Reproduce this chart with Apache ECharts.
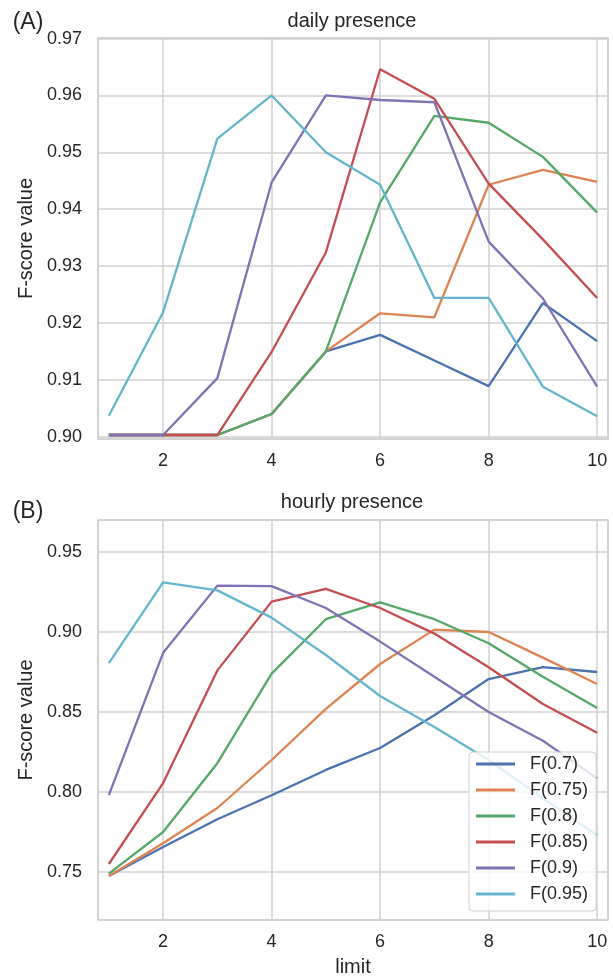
<!DOCTYPE html>
<html>
<head>
<meta charset="utf-8">
<script src="https://cdn.jsdelivr.net/npm/echarts@6/dist/echarts.min.js"></script>
<style>
html,body{margin:0;padding:0;background:#fff;}
#chart{width:613px;height:980px;}
</style>
</head>
<body>
<div id="chart"></div>
<script>
// ---- data ----
const limits = [1, 2, 3, 4, 5, 6, 7, 8, 9, 10];
const seriesNames = ['F(0.7)', 'F(0.75)', 'F(0.8)', 'F(0.85)', 'F(0.9)', 'F(0.95)'];

const dailyF070 = [0.9003, 0.9003, 0.9003, 0.9040, 0.9150, 0.9179, 0.9134, 0.9089, 0.9235, 0.9168];
const dailyF075 = [0.9003, 0.9003, 0.9003, 0.9040, 0.9150, 0.9217, 0.9210, 0.9443, 0.9469, 0.9448];
const dailyF080 = [0.9003, 0.9003, 0.9003, 0.9040, 0.9150, 0.9412, 0.9564, 0.9552, 0.9492, 0.9394];
const dailyF085 = [0.9003, 0.9003, 0.9003, 0.9149, 0.9324, 0.9646, 0.9594, 0.9445, 0.9347, 0.9244];
const dailyF090 = [0.9003, 0.9003, 0.9103, 0.9447, 0.9600, 0.9592, 0.9588, 0.9343, 0.9243, 0.9088];
const dailyF095 = [0.9037, 0.9219, 0.9524, 0.9600, 0.9500, 0.9443, 0.9244, 0.9244, 0.9088, 0.9036];

const hourlyF070 = [0.7475, 0.7656, 0.7830, 0.7980, 0.8138, 0.8275, 0.8480, 0.8706, 0.8780, 0.8750];
const hourlyF075 = [0.7475, 0.7680, 0.7900, 0.8200, 0.8520, 0.8800, 0.9015, 0.9000, 0.8840, 0.8675];
const hourlyF080 = [0.7490, 0.7750, 0.8180, 0.8740, 0.9080, 0.9185, 0.9080, 0.8930, 0.8720, 0.8525];
const hourlyF085 = [0.7550, 0.8056, 0.8760, 0.9190, 0.9270, 0.9150, 0.8990, 0.8780, 0.8550, 0.8370];
const hourlyF090 = [0.7980, 0.8870, 0.9290, 0.9287, 0.9150, 0.8940, 0.8720, 0.8500, 0.8320, 0.8085];
const hourlyF095 = [0.8806, 0.9310, 0.9260, 0.9090, 0.8856, 0.8600, 0.8406, 0.8200, 0.7960, 0.7730];

const yTicksDaily = ['0.90', '0.91', '0.92', '0.93', '0.94', '0.95', '0.96', '0.97'];
const yTicksHourly = ['0.75', '0.80', '0.85', '0.90', '0.95'];
const xTicks = ['2', '4', '6', '8', '10'];

const dailySets = [dailyF070, dailyF075, dailyF080, dailyF085, dailyF090, dailyF095];
const hourlySets = [hourlyF070, hourlyF075, hourlyF080, hourlyF085, hourlyF090, hourlyF095];
const colors = ['#4C72B0', '#DD8452', '#55A868', '#C44E52', '#8172B3', '#64B5CD'];

// ---- chart ----
const textColor = '#262626';
const gridColor = '#d0d0d0';
const fontFamily = '"Liberation Sans", Arial, sans-serif';

function xAxisCfg(gridIndex, withName) {
  return {
    type: 'value', gridIndex: gridIndex, min: 0.8, max: 10.2, splitNumber: 5,
    axisLine: { show: false }, axisTick: { show: false },
    splitLine: { show: true, lineStyle: { color: gridColor, width: 1.5 } },
    axisLabel: {
      color: textColor, fontSize: 18, fontFamily: fontFamily, margin: 13,
      showMinLabel: false, showMaxLabel: false,
      formatter: function (v) {
        const s = String(Math.round(v));
        return (Math.abs(v - Math.round(v)) < 1e-6 && xTicks.indexOf(s) >= 0) ? s : '';
      }
    },
    name: withName ? 'limit' : '', nameLocation: 'middle', nameGap: 37,
    nameTextStyle: { color: textColor, fontSize: 20, fontFamily: fontFamily }
  };
}
function yAxisCfg(gridIndex, min, max, splitNumber, ticks) {
  return {
    type: 'value', gridIndex: gridIndex, min: min, max: max, splitNumber: splitNumber,
    axisLine: { show: false }, axisTick: { show: false },
    splitLine: { show: true, lineStyle: { color: gridColor, width: 1.5 } },
    axisLabel: {
      color: textColor, fontSize: 18, fontFamily: fontFamily, margin: 16,
      formatter: function (v) {
        const s = v.toFixed(2);
        return (ticks.indexOf(s) >= 0 && Math.abs(v - parseFloat(s)) < 1e-6) ? s : '';
      }
    },
    name: 'F-score value', nameLocation: 'middle', nameGap: 62, nameRotate: 90,
    nameTextStyle: { color: textColor, fontSize: 20, fontFamily: fontFamily }
  };
}

const series = [];
seriesNames.forEach(function (name, i) {
  series.push({
    name: name, type: 'line', xAxisIndex: 0, yAxisIndex: 0, symbol: 'none',
    lineStyle: { width: 2.3, color: colors[i] }, itemStyle: { color: colors[i] },
    data: limits.map(function (x, k) { return [x, dailySets[i][k]]; }),
    animation: false
  });
});
seriesNames.forEach(function (name, i) {
  series.push({
    name: name, type: 'line', xAxisIndex: 1, yAxisIndex: 1, symbol: 'none',
    lineStyle: { width: 2.3, color: colors[i] }, itemStyle: { color: colors[i] },
    data: limits.map(function (x, k) { return [x, hourlySets[i][k]]; }),
    animation: false
  });
});

const chart = echarts.init(document.getElementById('chart'), null, { renderer: 'canvas' });
chart.setOption({
  animation: false,
  backgroundColor: '#ffffff',
  textStyle: { fontFamily: fontFamily },
  grid: [
    { left: 98, right: 5, top: 38, height: 401, show: true, borderColor: gridColor, borderWidth: 1.5, containLabel: false },
    { left: 98, right: 5, top: 520, height: 400, show: true, borderColor: gridColor, borderWidth: 1.5, containLabel: false }
  ],
  xAxis: [xAxisCfg(0, false), xAxisCfg(1, true)],
  yAxis: [
    yAxisCfg(0, 0.8996, 0.9701, 7, yTicksDaily),
    yAxisCfg(1, 0.72, 0.97, 5, yTicksHourly)
  ],
  legend: {
    orient: 'vertical', left: 469, top: 752,
    data: seriesNames,
    icon: 'rect', itemWidth: 39, itemHeight: 3, itemGap: 6,
    padding: [2, 8, 7, 7],
    backgroundColor: 'rgba(255,255,255,0.8)',
    borderColor: '#d0d0d0', borderWidth: 1, borderRadius: 4,
    textStyle: { color: textColor, fontSize: 18, lineHeight: 20, fontFamily: fontFamily, padding: [0, 0, 0, 10] },
    selectedMode: false
  },
  graphic: [
    { type: 'text', x: 28, y: 23, style: { text: '(A)', fill: textColor, fontSize: 23, fontFamily: fontFamily, textAlign: 'center', textVerticalAlign: 'middle' } },
    { type: 'text', x: 352, y: 21, style: { text: 'daily presence', fill: textColor, fontSize: 20, fontFamily: fontFamily, textAlign: 'center', textVerticalAlign: 'middle' } },
    { type: 'text', x: 28, y: 512, style: { text: '(B)', fill: textColor, fontSize: 23, fontFamily: fontFamily, textAlign: 'center', textVerticalAlign: 'middle' } },
    { type: 'text', x: 352, y: 502, style: { text: 'hourly presence', fill: textColor, fontSize: 20, fontFamily: fontFamily, textAlign: 'center', textVerticalAlign: 'middle' } }
  ],
  series: series
});
</script>
</body>
</html>
